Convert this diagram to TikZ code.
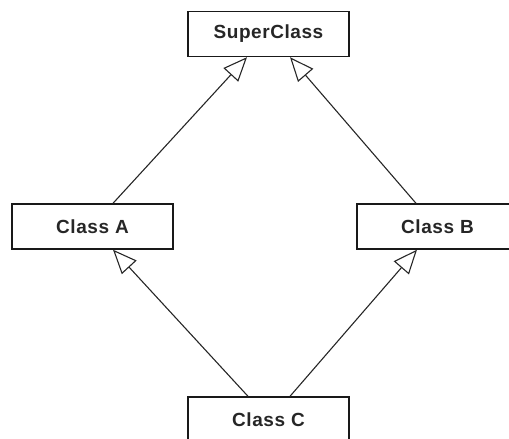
\documentclass[tikz,border=0pt]{standalone}
\usepackage{fontspec}
\setmainfont{Liberation Sans}
\usetikzlibrary{arrows.meta}
\begin{document}
\begin{tikzpicture}[x=1pt,y=-1pt,
  classbox/.style={draw=black!90, line width=1.4pt, fill=white,
    minimum width=161pt, minimum height=45pt, inner sep=0pt,
    font=\fontsize{19}{21}\selectfont\bfseries\addfontfeature{LetterSpace=3},
    text=black!85},
  inherit/.style={line width=1.1pt, draw=black!85,
    -{Triangle[open, length=24pt, width=20pt, line width=1.1pt]}}]
\useasboundingbox (0,0) rectangle (509,439);
\clip (0,0) rectangle (509,439);

% classes
\node[classbox] (super) at (268.5,34)   {SuperClass};
\node[classbox] (a)     at (92.5,226.5)  {Class A};
\node[classbox] (b)     at (437.5,226.5) {Class B};
\node[classbox] (c)     at (268.5,419.5) {Class C};

% generalisation arrows
\draw[inherit] ([xshift=20.5pt]a.north) -- ([xshift=-21.5pt]super.south);
\draw[inherit] ([xshift=-21.5pt]b.north) -- ([xshift=21.5pt]super.south);
\draw[inherit] ([xshift=-20.5pt]c.north) -- ([xshift=20.5pt]a.south);
\draw[inherit] ([xshift=21.5pt]c.north) -- ([xshift=-20.5pt]b.south);
\end{tikzpicture}
\end{document}
